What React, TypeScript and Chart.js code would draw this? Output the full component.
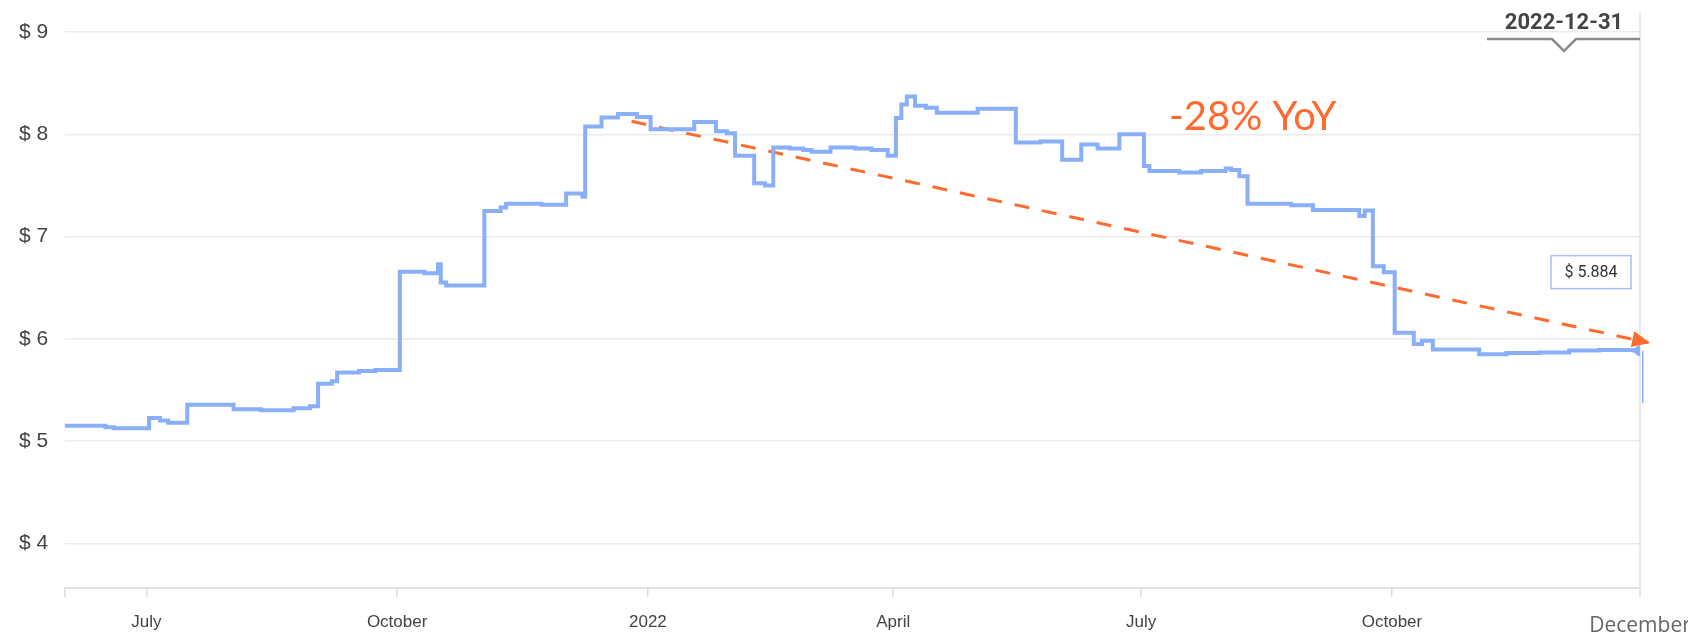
import { useEffect, useRef } from 'react';
import { Chart, registerables } from 'chart.js';

Chart.register(...registerables);

const START = '2021-06-01';
const END = '2022-12-31';

const priceDates = [
  '2021-06-01', '2021-06-16', '2021-06-19', '2021-07-02', '2021-07-06', '2021-07-09', '2021-07-16',
  '2021-08-02', '2021-08-12', '2021-08-24', '2021-08-30', '2021-09-02', '2021-09-07', '2021-09-09',
  '2021-09-17', '2021-09-23', '2021-10-02', '2021-10-11', '2021-10-16', '2021-10-17', '2021-10-19',
  '2021-11-02', '2021-11-08', '2021-11-10', '2021-11-23', '2021-12-02', '2021-12-08', '2021-12-09',
  '2021-12-15', '2021-12-21', '2021-12-28', '2022-01-02', '2022-01-18', '2022-01-26', '2022-01-30',
  '2022-02-02', '2022-02-09', '2022-02-13', '2022-02-16', '2022-02-22', '2022-02-27', '2022-03-02',
  '2022-03-09', '2022-03-18', '2022-03-24', '2022-03-30', '2022-04-02', '2022-04-04', '2022-04-06',
  '2022-04-09', '2022-04-13', '2022-04-17', '2022-05-02', '2022-05-16', '2022-05-25', '2022-06-02',
  '2022-06-09', '2022-06-15', '2022-06-23', '2022-07-02', '2022-07-04', '2022-07-15', '2022-07-23',
  '2022-08-01', '2022-08-03', '2022-08-06', '2022-08-09', '2022-08-25', '2022-09-02', '2022-09-19',
  '2022-09-21', '2022-09-24', '2022-09-28', '2022-10-02', '2022-10-09', '2022-10-12', '2022-10-16',
  '2022-11-02', '2022-11-12', '2022-11-24', '2022-12-05', '2022-12-16', '2022-12-29', '2022-12-31',
];

const priceValues = [
  5.15, 5.135, 5.125, 5.225, 5.2, 5.18, 5.355,
  5.31, 5.3, 5.32, 5.34, 5.56, 5.585, 5.67,
  5.685, 5.695, 6.655, 6.64, 6.73, 6.55, 6.52,
  7.25, 7.285, 7.32, 7.31, 7.42, 7.39, 8.075,
  8.165, 8.197, 8.17, 8.05, 8.12, 8.03, 8.01,
  7.79, 7.52, 7.5, 7.87, 7.86, 7.845, 7.83,
  7.87, 7.86, 7.845, 7.79, 8.16, 8.29, 8.37,
  8.28, 8.26, 8.21, 8.25, 7.92, 7.93, 7.75,
  7.9, 7.86, 8.0, 7.69, 7.64, 7.625, 7.64,
  7.665, 7.65, 7.59, 7.32, 7.305, 7.26, 7.2,
  7.255, 6.71, 6.65, 6.06, 5.95, 5.98, 5.895,
  5.85, 5.86, 5.865, 5.885, 5.89, 5.884, 5.884,
];

const tailDates = ['2023-01-01', '2023-01-01'];
const tailValues = [5.884, 5.37];

const trendDates = ['2021-12-26', '2023-01-03'];
const trendValues = [8.127, 5.963];

const tickDates = ['2021-06-01', '2021-07-01', '2021-10-01', '2022-01-01', '2022-04-01', '2022-07-01', '2022-10-01', '2022-12-31'];
const tickLabels = ['', 'July', 'October', '2022', 'April', 'July', 'October', ''];
const endTickLabel = 'December';
const yTickValues = [4, 5, 6, 7, 8, 9];

const hoverDate = '2022-12-31';
const hoverValue = 5.884;
const trendLabel = '-28% YoY';

const BLUE = '#8aaff9';
const ORANGE = '#ff6a2e';

const dayOf = (s: string) =>
  (Date.parse(s + 'T00:00:00Z') - Date.parse(START + 'T00:00:00Z')) / 86400000;

const overlayPlugin = {
  id: 'overlay',
  beforeDatasetsDraw(chart: any) {
    const { ctx, chartArea } = chart;
    const x = chart.scales.x;
    const cx = x.getPixelForValue(dayOf(hoverDate));
    ctx.save();
    ctx.strokeStyle = '#e3e3e3';
    ctx.lineWidth = 1.5;
    ctx.beginPath();
    ctx.moveTo(cx, 13);
    ctx.lineTo(cx, chartArea.bottom + 9);
    ctx.stroke();
    ctx.restore();
  },
  afterDraw(chart: any) {
    const { ctx } = chart;
    const x = chart.scales.x;
    const y = chart.scales.y;
    const cx = x.getPixelForValue(dayOf(hoverDate));
    ctx.save();

    // hover date label
    const mid = cx - 76;
    ctx.strokeStyle = '#8c8c8c';
    ctx.lineWidth = 2.5;
    ctx.beginPath();
    ctx.moveTo(cx - 153, 39);
    ctx.lineTo(mid - 12, 39);
    ctx.lineTo(mid, 51);
    ctx.lineTo(mid + 12, 39);
    ctx.lineTo(cx, 39);
    ctx.stroke();
    ctx.fillStyle = '#444';
    ctx.font = 'bold 22px Roboto';
    ctx.textAlign = 'center';
    ctx.textBaseline = 'alphabetic';
    ctx.fillText(hoverDate, mid, 29);

    // value box
    const py = y.getPixelForValue(hoverValue);
    const bx = cx - 89;
    const by = py - 95;
    ctx.strokeStyle = '#a6befa';
    ctx.lineWidth = 1.5;
    ctx.fillStyle = '#fff';
    ctx.fillRect(bx, by, 80, 33);
    ctx.strokeRect(bx, by, 80, 33);
    ctx.fillStyle = '#333';
    ctx.font = '16px Roboto';
    ctx.textBaseline = 'middle';
    ctx.fillText('$ ' + hoverValue.toFixed(3), bx + 40, by + 17);

    // arrow head
    const meta = chart.getDatasetMeta(1);
    const p1 = meta.data[0];
    const p2 = meta.data[meta.data.length - 1];
    const ang = Math.atan2(p2.y - p1.y, p2.x - p1.x);
    const tx = p2.x + 2 * Math.cos(ang);
    const ty = p2.y + 2 * Math.sin(ang);
    const len = 18;
    const hw = 8;
    const bxp = tx - len * Math.cos(ang);
    const byp = ty - len * Math.sin(ang);
    ctx.fillStyle = ORANGE;
    ctx.beginPath();
    ctx.moveTo(tx, ty);
    ctx.lineTo(bxp + hw * Math.sin(ang), byp - hw * Math.cos(ang));
    ctx.lineTo(bxp - hw * Math.sin(ang), byp + hw * Math.cos(ang));
    ctx.closePath();
    ctx.fill();

    // annotation text
    ctx.fillStyle = ORANGE;
    ctx.font = '40px Lato';
    ctx.textAlign = 'left';
    ctx.textBaseline = 'alphabetic';
    ctx.fillText(trendLabel, 1169, 130);

    // last x label
    ctx.fillStyle = '#666';
    ctx.font = '21px "Open Sans"';
    ctx.textAlign = 'center';
    ctx.fillText(endTickLabel, x.getPixelForValue(dayOf(tickDates[tickDates.length - 1])), 632);

    ctx.restore();
  },
};

export default function App() {
  const ref = useRef<HTMLCanvasElement | null>(null);

  useEffect(() => {
    if (!ref.current) return;
    const price = priceDates.map((d, i) => ({ x: dayOf(d), y: priceValues[i] }));
    const trend = trendDates.map((d, i) => ({ x: dayOf(d), y: trendValues[i] }));
    const tail = tailDates.map((d, i) => ({ x: dayOf(d), y: tailValues[i] }));
    const tickDays = tickDates.map(dayOf);
    const lastIdx = price.length - 1;

    const chart = new Chart(ref.current, {
      type: 'line',
      data: {
        datasets: [
          {
            data: price,
            borderColor: BLUE,
            backgroundColor: BLUE,
            borderWidth: 4,
            stepped: 'before',
            pointRadius: (c: any) => (c.dataIndex === lastIdx ? 5.5 : 0),
            pointBorderWidth: 0,
            fill: false,
          },
          {
            data: trend,
            borderColor: ORANGE,
            borderWidth: 3,
            borderDash: [15, 13],
            pointRadius: 0,
            fill: false,
            clip: false,
          },
          {
            data: tail,
            borderColor: BLUE,
            borderWidth: 1.5,
            pointRadius: 0,
            fill: false,
            clip: false,
          },
        ],
      },
      options: {
        responsive: false,
        animation: false,
        events: [],
        layout: { padding: { left: 19, right: 48, top: 32, bottom: 0 } },
        plugins: { legend: { display: false }, tooltip: { enabled: false } },
        scales: {
          x: {
            type: 'linear',
            min: 0,
            max: dayOf(END),
            afterBuildTicks: (s: any) => {
              s.ticks = tickDays.map((v) => ({ value: v }));
            },
            afterFit: (s: any) => {
              s.height = 46;
            },
            border: { display: true, color: '#e2e2e2', width: 2 },
            grid: { drawOnChartArea: false, drawTicks: true, tickLength: 9, color: '#dcdcdc', lineWidth: 1.5 },
            ticks: {
              autoSkip: false,
              maxRotation: 0,
              padding: 15,
              color: '#444',
              font: { family: '"Liberation Sans", Arial', size: 17 },
              callback: (v: any) => {
                const i = tickDays.indexOf(Number(v));
                return i >= 0 ? tickLabels[i] : '';
              },
            },
          },
          y: {
            type: 'linear',
            min: 3.563,
            max: 9,
            afterBuildTicks: (s: any) => {
              s.ticks = yTickValues.map((v) => ({ value: v }));
            },
            afterFit: (s: any) => {
              s.width = 45.6;
            },
            border: { display: false },
            grid: { color: '#ebebeb', lineWidth: 1.5, drawTicks: false },
            ticks: {
              crossAlign: 'far',
              padding: 0,
              color: '#444',
              font: { family: '"Liberation Sans", Arial', size: 21 },
              callback: (v: any) => '$ ' + v,
            },
          },
        },
      },
      plugins: [overlayPlugin],
    } as any);
    return () => chart.destroy();
  }, []);

  return (
    <div style={{ position: 'fixed', left: 0, top: 0, width: 1688, height: 634, background: '#fff', overflow: 'hidden' }}>
      <canvas ref={ref} width={1688} height={634} style={{ width: 1688, height: 634, display: 'block' }} />
    </div>
  );
}
